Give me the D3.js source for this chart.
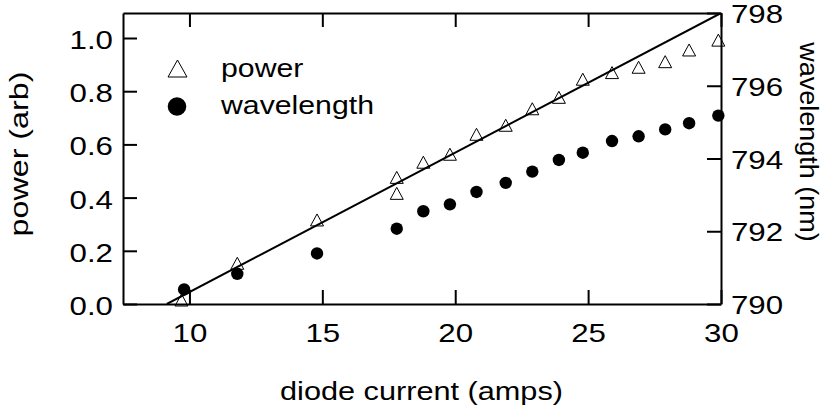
<!DOCTYPE html>
<html>
<head>
<meta charset="utf-8">
<script src="https://cdn.jsdelivr.net/npm/d3@7"></script>
<style>
  body { margin: 0; background: #fff; }
  svg { display: block; }
  text { font-family: "Liberation Sans", Arial, sans-serif; fill: #000; }
</style>
</head>
<body>
<div id="chart"></div>
<script>
// 数据：功率（三角形）
const powerCurrent = [9.7, 11.8, 14.8, 17.8, 17.8, 18.8, 19.8, 20.8, 21.9, 22.9, 23.9, 24.8, 25.9, 26.9, 27.9, 28.8, 29.9];
const power = [0.015, 0.153, 0.316, 0.476, 0.416, 0.533, 0.563, 0.638, 0.672, 0.734, 0.777, 0.845, 0.870, 0.890, 0.911, 0.955, 0.992];

// 数据：波长（实心圆）
const waveCurrent = [9.8, 11.8, 14.8, 17.8, 18.8, 19.8, 20.8, 21.9, 22.9, 23.9, 24.8, 25.9, 26.9, 27.9, 28.8, 29.9];
const wavelength = [790.40, 790.83, 791.39, 792.07, 792.55, 792.74, 793.08, 793.33, 793.64, 793.96, 794.16, 794.48, 794.61, 794.80, 794.97, 795.18];

// 拟合直线的两个端点
const fitCurrent = [9.15, 30];
const fitPower = [0, 1.094];

// 刻度
const xTicks = [10, 15, 20, 25, 30];
const powerTicks = [0, 0.2, 0.4, 0.6, 0.8, 1.0];
const waveTicks = [790, 792, 794, 796, 798];

const legendLabels = ["power", "wavelength"];

const width = 823, height = 410;
const margin = {top: 13, right: 102, bottom: 106, left: 123};
const innerW = width - margin.left - margin.right;
const innerH = height - margin.top - margin.bottom;
const fontSize = 25;
const stretch = 1.25;   // 原图字体横向偏宽

const svg = d3.select("#chart").append("svg")
    .attr("width", width)
    .attr("height", height);

const x = d3.scaleLinear().domain([7.5, 30]).range([margin.left, margin.left + innerW]);
const yP = d3.scaleLinear().domain([0, 1.094]).range([margin.top + innerH, margin.top]);
const yW = d3.scaleLinear().domain([790, 798]).range([margin.top + innerH, margin.top]);

function styleAxis(g) {
    g.selectAll("path.domain").attr("stroke", "#000").attr("stroke-width", 2);
    g.selectAll(".tick line").attr("stroke", "#000").attr("stroke-width", 2);
}

// 底部坐标轴
const gx = svg.append("g")
    .attr("transform", "translate(0," + (margin.top + innerH) + ")")
    .call(d3.axisBottom(x).tickValues(xTicks).tickSize(-14).tickSizeOuter(0).tickFormat(d3.format("d")));
styleAxis(gx);
gx.selectAll(".tick text")
    .attr("y", null).attr("dy", null)
    .attr("font-size", fontSize)
    .attr("transform", "translate(0,38) scale(" + stretch + ",1)");

// 顶部坐标轴（只有刻度）
const gxt = svg.append("g")
    .attr("transform", "translate(0," + margin.top + ")")
    .call(d3.axisTop(x).tickValues(xTicks).tickSize(-14).tickSizeOuter(0).tickFormat(""));
styleAxis(gxt);

// 左侧坐标轴：power
const gl = svg.append("g")
    .attr("transform", "translate(" + margin.left + ",0)")
    .call(d3.axisLeft(yP).tickValues(powerTicks).tickSize(-14).tickSizeOuter(0).tickFormat(d3.format(".1f")));
styleAxis(gl);
gl.selectAll(".tick text")
    .attr("x", null).attr("dy", null)
    .attr("font-size", fontSize)
    .attr("text-anchor", "end")
    .attr("transform", "translate(-10,10.5) scale(" + stretch + ",1)");

// 右侧坐标轴：wavelength
const gr = svg.append("g")
    .attr("transform", "translate(" + (margin.left + innerW) + ",0)")
    .call(d3.axisRight(yW).tickValues(waveTicks).tickSize(-14).tickSizeOuter(0).tickFormat(d3.format("d")));
styleAxis(gr);
gr.selectAll(".tick text")
    .attr("x", null).attr("dy", null)
    .attr("font-size", fontSize)
    .attr("text-anchor", "start")
    .attr("transform", "translate(10,9.5) scale(" + stretch + ",1)");

// 裁剪区域
svg.append("defs").append("clipPath")
    .attr("id", "plot-clip")
    .append("rect")
    .attr("x", margin.left).attr("y", margin.top)
    .attr("width", innerW).attr("height", innerH);

// 拟合直线
const fitData = fitCurrent.map((c, i) => [c, fitPower[i]]);
svg.append("path")
    .datum(fitData)
    .attr("clip-path", "url(#plot-clip)")
    .attr("fill", "none")
    .attr("stroke", "#000")
    .attr("stroke-width", 2)
    .attr("d", d3.line().x(d => x(d[0])).y(d => yP(d[1])));

// 三角形（按外框中心定位）
function trianglePath(w, h) {
    return "M0," + (-h / 2) + "L" + (w / 2) + "," + (h / 2) + "L" + (-w / 2) + "," + (h / 2) + "Z";
}

// 波长点
svg.append("g").selectAll("circle")
    .data(waveCurrent.map((c, i) => ({c: c, v: wavelength[i]})))
    .join("circle")
    .attr("cx", d => x(d.c))
    .attr("cy", d => yW(d.v))
    .attr("r", 6.2)
    .attr("fill", "#000");

// 功率点
svg.append("g").selectAll("path")
    .data(powerCurrent.map((c, i) => ({c: c, v: power[i]})))
    .join("path")
    .attr("transform", d => "translate(" + x(d.c) + "," + yP(d.v) + ")")
    .attr("d", trianglePath(13, 12))
    .attr("fill", "none")
    .attr("stroke", "#000")
    .attr("stroke-width", 1);

// 图例
const legend = svg.append("g");
legend.append("path")
    .attr("transform", "translate(177.5,68.5)")
    .attr("d", trianglePath(19, 17))
    .attr("fill", "none")
    .attr("stroke", "#000")
    .attr("stroke-width", 1);
legend.append("circle")
    .attr("cx", 177).attr("cy", 106.5).attr("r", 9.3)
    .attr("fill", "#000");
legend.selectAll("text")
    .data(legendLabels)
    .join("text")
    .attr("font-size", fontSize)
    .attr("transform", (d, i) => "translate(221," + (77 + i * 37) + ") scale(1.21,1)")
    .text(d => d);

// 坐标轴标题
svg.append("text")
    .attr("font-size", fontSize)
    .attr("text-anchor", "middle")
    .attr("transform", "translate(421.5,400) scale(1.227,1)")
    .text("diode current (amps)");

svg.append("text")
    .attr("font-size", fontSize)
    .attr("text-anchor", "middle")
    .attr("transform", "translate(28,154) rotate(-90) scale(1.29,1)")
    .text("power (arb)");

svg.append("text")
    .attr("font-size", fontSize)
    .attr("text-anchor", "middle")
    .attr("transform", "translate(800,142) rotate(90) scale(1.08,1)")
    .text("wavelength (nm)");
</script>
</body>
</html>
